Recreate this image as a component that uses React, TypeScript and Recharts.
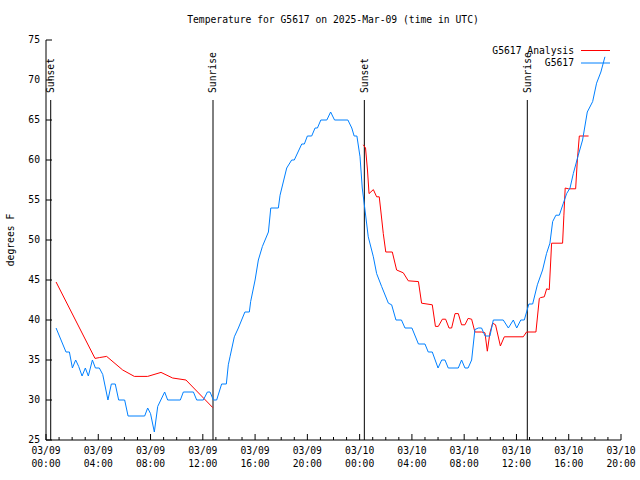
import { LineChart, Line, XAxis, YAxis, ReferenceLine, Legend } from 'recharts';

// hours since 03/09 00:00 UTC
const analysisHours = [
  0.77, 3.75, 4.08, 4.64, 5.87, 6.76, 7.78, 8.8, 9.69, 10.71, 12.76,
  18.5,
  24.28, 24.45, 24.6, 24.72, 25.05, 25.3, 25.5, 25.63, 25.81, 26.0, 26.5, 26.83,
  27.34, 27.72, 28.5, 28.74, 29.56, 29.8, 30.02, 30.33, 30.58, 30.84, 31.04, 31.3,
  31.55, 31.8, 32.06, 32.3, 32.57, 32.82, 33.33, 33.59, 33.77, 33.97, 34.18, 34.4,
  34.77, 35.07, 36.52, 36.77, 37.49, 37.75, 37.85, 38.13, 38.31, 38.51, 38.69, 39.53,
  39.63, 39.73, 39.97, 40.53, 40.66, 40.81, 41.52,
];
const analysisTemps = [
  44.75, 35.2, 35.3, 35.45, 33.75, 32.95, 32.95, 33.45, 32.75, 32.5, 29.05,
  null,
  61.9, 61.5, 58.75, 55.8, 56.3, 55.4, 55.4, 53.5, 50.8, 48.5, 48.5, 46.25,
  45.9, 44.9, 44.8, 42.1, 41.9, 39.2, 39.2, 40.1, 40.1, 39.0, 39.0, 40.8,
  40.8, 39.4, 39.4, 40.2, 40.1, 38.5, 38.5, 38.4, 36.1, 38.4, 39.6, 39.4,
  36.75, 37.9, 37.9, 38.5, 38.5, 42.7, 42.8, 42.9, 43.9, 43.8, 49.6, 49.6,
  53.1, 56.5, 56.4, 56.4, 60, 63, 63,
];

const stationHours = [
  0.77, 1.53, 1.79, 2.02, 2.27, 2.5, 2.76, 3.01, 3.24, 3.55, 3.78, 4.08, 4.34, 4.74,
  5.0, 5.3, 5.56, 6.02, 6.28, 7.55, 7.78, 8.0, 8.29, 8.55, 9.08, 9.31, 10.28, 10.51,
  11.28, 11.53, 12.04, 12.35, 12.55, 12.81, 13.06, 13.44, 13.8, 13.95, 14.08, 14.41,
  14.72, 15.22, 15.56, 15.66, 16.0, 16.25, 16.56, 17.02, 17.2, 17.78, 17.91, 18.42,
  18.8, 19.0, 19.57, 19.77, 20.0, 20.33, 20.59, 20.77, 21.03, 21.49, 21.78, 22.08,
  23.1, 23.4, 23.58, 23.79, 24.03, 24.2, 24.41, 24.66, 25.05, 25.3, 25.68, 26.2,
  26.45, 26.78, 27.2, 27.47, 28.0, 28.5, 29.0, 29.25, 29.56, 30.0, 30.28, 30.53,
  30.78, 31.55, 31.8, 32.06, 32.3, 32.57, 32.82, 33.08, 33.33, 33.6, 33.97, 34.23,
  34.99, 35.38, 35.76, 36.02, 36.33, 36.6, 36.95, 37.24, 37.6, 38.0, 38.3, 38.56,
  38.77, 39.02, 39.28, 39.59, 39.84, 40.1, 40.35, 40.73, 41.06, 41.42, 41.83, 42.13,
  42.46, 42.77,
];
const stationTemps = [
  39, 36, 36, 34, 35, 34.2, 33, 34, 33, 35, 34, 34, 33.2, 30,
  32, 32, 30, 30, 28, 28, 29, 28.3, 26, 29.2, 31, 30, 30, 31,
  31, 30, 30, 31, 31, 30, 30, 32, 32, 34.4, 35.4, 37.9,
  39, 41, 41, 42.3, 45, 47.5, 49.2, 51, 54, 54, 55.6, 59,
  60, 60, 62, 62, 63, 63, 64, 64, 65, 65, 66, 65,
  65, 64, 63, 63, 60.4, 56.5, 53.75, 50.4, 47.9, 45.8, 44.2, 42.1,
  41.9, 40, 40, 39, 39, 37, 37, 36, 36, 34, 35, 35,
  34, 34, 35, 34, 34, 35, 38.8, 39, 39, 38, 38, 40,
  40, 39, 40, 39, 40, 40, 42, 42, 44.4, 46.25, 48.3, 49.6,
  52.3, 53.1, 53.1, 54.6, 55.8, 56.5, 58.3, 60.6, 62.5, 66, 67.3, 69.6,
  71, 72.9,
];

const seriesNames = ['G5617 Analysis', 'G5617'];

const eventNames = ['Sunset', 'Sunrise', 'Sunset', 'Sunrise'];
const eventHours = [0.36, 12.78, 24.36, 36.83];
const eventTop = 67.5;

const hourTicks = [
  0, 1, 2, 3, 4, 5, 6, 7, 8, 9, 10, 11, 12, 13, 14, 15, 16, 17, 18, 19, 20, 21, 22,
  23, 24, 25, 26, 27, 28, 29, 30, 31, 32, 33, 34, 35, 36, 37, 38, 39, 40, 41, 42, 43, 44,
];
const majorHours = [0, 4, 8, 12, 16, 20, 24, 28, 32, 36, 40, 44];
const tickDays = ['03/09', '03/09', '03/09', '03/09', '03/09', '03/09', '03/10', '03/10', '03/10', '03/10', '03/10', '03/10'];
const tickTimes = ['00:00', '04:00', '08:00', '12:00', '16:00', '20:00', '00:00', '04:00', '08:00', '12:00', '16:00', '20:00'];
const tempTicks = [25, 30, 35, 40, 45, 50, 55, 60, 65, 70, 75];

const analysisData = analysisHours.map((h, i) => ({ h, v: analysisTemps[i] }));
const stationData = stationHours.map((h, i) => ({ h, v: stationTemps[i] }));

const font = 'DejaVu Sans Mono';
const fs = 9.7;

const BottomTick = ({ x, y, payload }: any) => {
  const i = majorHours.indexOf(payload.value);
  const len = i >= 0 ? 6 : 3;
  return (
    <g>
      <line x1={x} x2={x} y1={y} y2={y - len} stroke="#000" />
      {i >= 0 && (
        <text x={x} y={y + 14} textAnchor="middle" fontFamily={font} fontSize={fs} fill="#000">
          {tickDays[i]}
        </text>
      )}
      {i >= 0 && (
        <text x={x} y={y + 27} textAnchor="middle" fontFamily={font} fontSize={fs} fill="#000">
          {tickTimes[i]}
        </text>
      )}
    </g>
  );
};

const TopTick = ({ x, y, payload }: any) => {
  const len = majorHours.includes(payload.value) ? 6 : 3;
  return <line x1={x} x2={x} y1={y} y2={y + len} stroke="#000" />;
};

const LeftTick = ({ x, y, payload }: any) => (
  <g>
    <line x1={x} x2={x + 6} y1={y} y2={y} stroke="#000" />
    <text x={x - 6} y={y} dy="0.35em" textAnchor="end" fontFamily={font} fontSize={fs} fill="#000">
      {payload.value}
    </text>
  </g>
);

const RightTick = ({ x, y }: any) => <line x1={x} x2={x - 6} y1={y} y2={y} stroke="#000" />;

const eventLabel = (name: string) => (props: any) => {
  const { x, y } = props.viewBox;
  return (
    <text
      transform={`translate(${x},${y - 7}) rotate(-90)`}
      dy="0.35em"
      textAnchor="start"
      fontFamily={font}
      fontSize={fs}
      fill="#000"
    >
      {name}
    </text>
  );
};

const renderLegend = (props: any) => {
  const items = [...(props.payload || [])].sort(
    (a: any, b: any) => seriesNames.indexOf(a.value) - seriesNames.indexOf(b.value)
  );
  return (
    <svg width={180} height={32}>
      {items.map((entry: any, i: number) => (
        <g key={entry.value}>
          <text x={134} y={10.5 + i * 12.5} dy="0.35em" textAnchor="end" fontFamily={font} fontSize={fs} fill="#000">
            {entry.value}
          </text>
          <line x1={141} x2={170} y1={10.5 + i * 12.5} y2={10.5 + i * 12.5} stroke={entry.color} />
        </g>
      ))}
    </svg>
  );
};

export default function App() {
  return (
    <div style={{ position: 'absolute', left: 0, top: 0, width: 640, height: 480, background: '#fff' }}>
      <LineChart width={640} height={480} margin={{ top: 40, right: 19, bottom: 0, left: 0 }}>
        <XAxis
          dataKey="h"
          type="number"
          domain={[0, 44]}
          ticks={hourTicks}
          interval={0}
          height={40}
          tickSize={0}
          tickMargin={0}
          tickLine={false}
          axisLine={{ stroke: '#000' }}
          tick={<BottomTick />}
          allowDataOverflow
        />
        <XAxis
          xAxisId="top"
          orientation="top"
          type="number"
          domain={[0, 44]}
          ticks={hourTicks}
          interval={0}
          height={0}
          tickSize={0}
          tickMargin={0}
          tickLine={false}
          axisLine={{ stroke: '#000' }}
          tick={<TopTick />}
        />
        <YAxis
          type="number"
          domain={[25, 75]}
          ticks={tempTicks}
          interval={0}
          width={46}
          tickSize={0}
          tickMargin={0}
          tickLine={false}
          axisLine={{ stroke: '#000' }}
          tick={<LeftTick />}
          allowDataOverflow
        />
        <YAxis
          yAxisId="right"
          orientation="right"
          type="number"
          domain={[25, 75]}
          ticks={tempTicks}
          interval={0}
          width={0}
          tickSize={0}
          tickMargin={0}
          tickLine={false}
          axisLine={{ stroke: '#000' }}
          tick={<RightTick />}
        />
        {eventHours.map((h, i) => (
          <ReferenceLine
            key={i}
            segment={[{ x: h, y: 25 }, { x: h, y: eventTop }]}
            stroke="#000"
            strokeWidth={1}
            label={eventLabel(eventNames[i])}
          />
        ))}
        <Line
          data={analysisData}
          dataKey="v"
          name={seriesNames[0]}
          stroke="#ff0000"
          strokeWidth={1}
          dot={false}
          type="linear"
          connectNulls={false}
          isAnimationActive={false}
        />
        <Line
          data={stationData}
          dataKey="v"
          name={seriesNames[1]}
          stroke="#0080ff"
          strokeWidth={1}
          dot={false}
          type="linear"
          isAnimationActive={false}
        />
        <Legend
          layout="vertical"
          align="center"
          verticalAlign="middle"
          content={renderLegend}
          wrapperStyle={{ position: 'absolute', left: 440, top: 40, width: 180, height: 32 }}
        />
      </LineChart>
      <svg
        width={640}
        height={480}
        style={{ position: 'absolute', left: 0, top: 0, pointerEvents: 'none' }}
      >
        <text x={333} y={20} dy="0.35em" textAnchor="middle" fontFamily={font} fontSize={fs} fill="#000">
          Temperature for G5617 on 2025-Mar-09 (time in UTC)
        </text>
        <text
          transform="translate(11,240) rotate(-90)"
          dy="0.35em"
          textAnchor="middle"
          fontFamily={font}
          fontSize={fs}
          fill="#000"
        >
          degrees F
        </text>
      </svg>
    </div>
  );
}
